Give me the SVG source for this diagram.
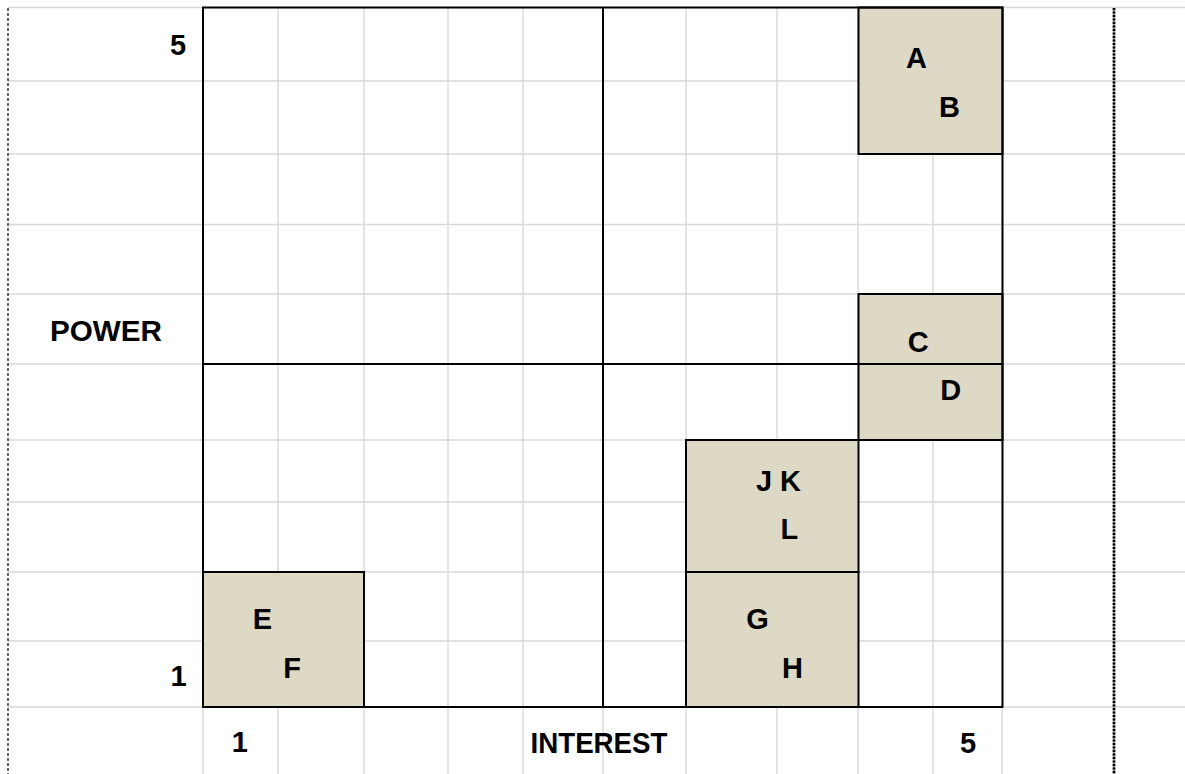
<svg xmlns="http://www.w3.org/2000/svg" width="1185" height="774" viewBox="0 0 1185 774">
<style>
.g{stroke:#d9d9d9;stroke-width:1.4;fill:none}
.k{stroke:#000;stroke-width:2;fill:none}
.box{fill:#ddd9c4;stroke:#000;stroke-width:2}
.t{font-family:"Liberation Sans",Arial,sans-serif;font-weight:bold;font-size:29px;fill:#000;text-anchor:middle}
</style>
<rect width="1185" height="774" fill="#fff"/>
<g id="grid">
<path class="g" d="M8 7.5H1185M8 81H1185M8 154H1185M8 224.5H1185M8 294H1185M8 364H1185M8 440H1185M8 502H1185M8 572H1185M8 641H1185M8 707H1185"/>
<path class="g" d="M203 7.5V774M278 7.5V774M364 7.5V774M448 7.5V774M523 7.5V774M603 7.5V774M686 7.5V774M777 7.5V774M858 7.5V774M933 7.5V774M1002 7.5V774"/>
<line x1="8" y1="8" x2="8" y2="774" stroke="#000" stroke-width="1.2" stroke-dasharray="3 2"/>
<line x1="1114" y1="8" x2="1114" y2="774" stroke="#999" stroke-width="2.6"/>
<line x1="1114" y1="8" x2="1114" y2="774" stroke="#000" stroke-width="2.6" stroke-dasharray="2 1.5"/>
</g>
<g id="node-AB">
<rect class="box" x="858.5" y="7.5" width="144" height="146.5"/>
<text class="t" x="916.5" y="68">A</text>
<text class="t" x="949.5" y="117">B</text>
</g>
<g id="node-CD">
<rect class="box" x="858.5" y="294" width="144" height="146"/>
<text class="t" x="918.3" y="352">C</text>
<text class="t" x="950.7" y="400">D</text>
</g>
<g id="node-JKL">
<rect class="box" x="686" y="440" width="172.5" height="132"/>
<text class="t" x="778.5" y="491">J K</text>
<text class="t" x="789.3" y="539">L</text>
</g>
<g id="node-GH">
<rect class="box" x="686" y="572" width="172.5" height="135"/>
<text class="t" x="757.5" y="629">G</text>
<text class="t" x="792.4" y="678">H</text>
</g>
<g id="node-EF">
<rect class="box" x="203" y="572" width="161" height="135"/>
<text class="t" x="262.5" y="629">E</text>
<text class="t" x="292" y="678">F</text>
</g>
<g id="connectors">
<rect class="k" x="203" y="7.5" width="799.5" height="699.5"/>
<path class="k" d="M603 7.5V707M203 364H1002.5"/>
</g>
<g id="axis-labels">
<text class="t" x="178" y="55">5</text>
<text class="t" x="106" y="341" textLength="112" lengthAdjust="spacingAndGlyphs">POWER</text>
<text class="t" x="178.5" y="686">1</text>
<text class="t" x="239.7" y="752">1</text>
<text class="t" x="599" y="753" textLength="137" lengthAdjust="spacingAndGlyphs">INTEREST</text>
<text class="t" x="968" y="753">5</text>
</g>
</svg>
